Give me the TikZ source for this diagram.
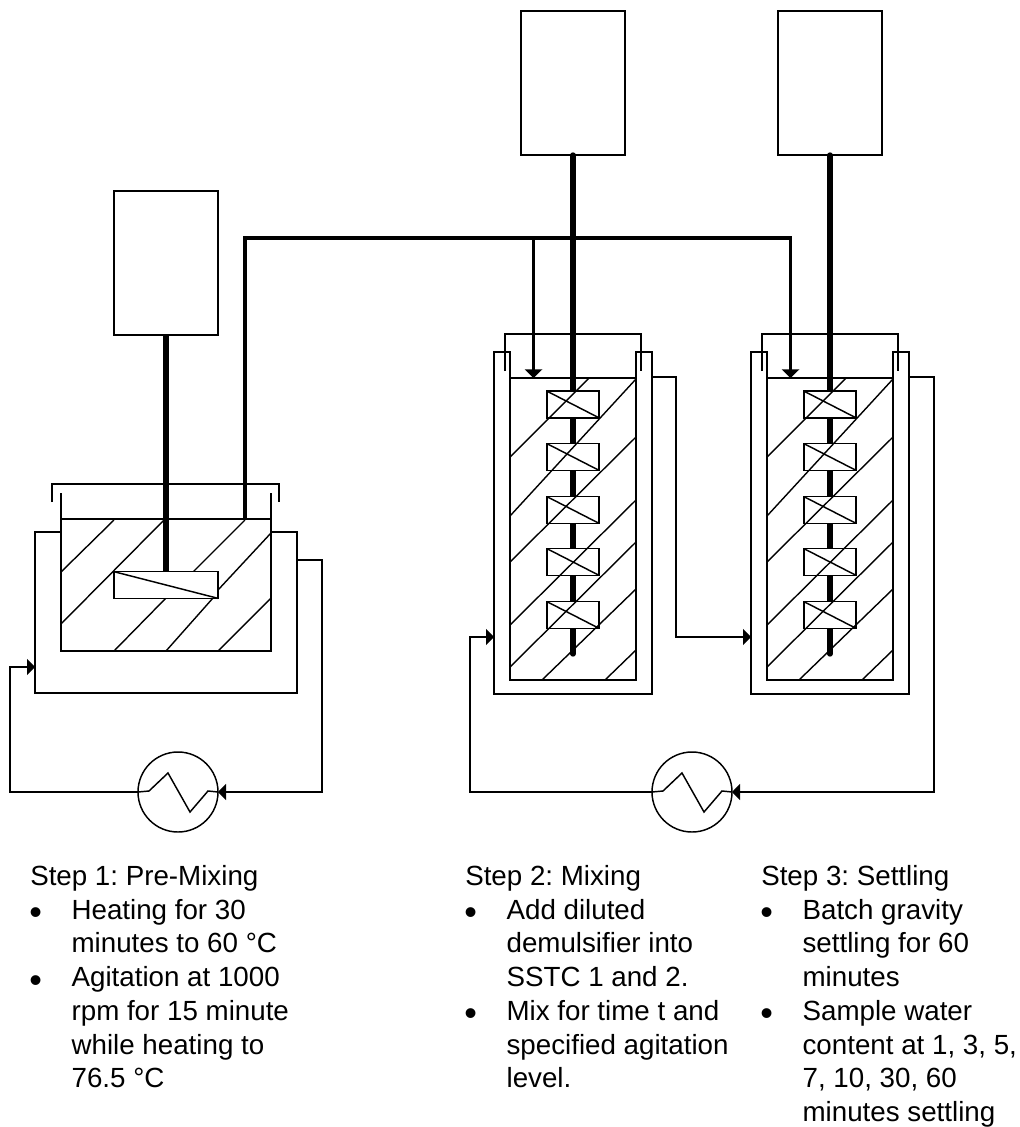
\documentclass[tikz,border=0pt]{standalone}
\usepackage{fontspec}
\setmainfont{Liberation Sans}
\usetikzlibrary{positioning,arrows.meta}
% Bullet with a hanging indent
\newcommand{\stepitem}[1]{\makebox[\stepindent][l]{\hspace*{-0.6pt}\smash{\raisebox{-4.2pt}{\fontsize{27pt}{27pt}\selectfont\textbullet}}}#1}
\newcommand{\stepcont}[1]{\hspace*{\stepindent}#1}
\newlength{\stepindent}
\setlength{\stepindent}{31pt}

\begin{document}
\begin{tikzpicture}[
    x=0.75pt, y=-0.75pt,
    % Stili per i recipienti
    motor/.style={rectangle, draw=black, line width=1.1pt, fill=white, inner sep=0pt, outer sep=0pt,
        minimum width=78pt, minimum height=108pt},
    tank/.style={rectangle, draw=black, line width=1.1pt, inner sep=0pt, outer sep=0pt},
    impeller/.style={rectangle, draw=black, line width=1.1pt, fill=white, inner sep=0pt, outer sep=0pt,
        minimum width=39pt, minimum height=20pt},
    exchanger/.style={circle, draw=black, line width=1.1pt, inner sep=0pt, outer sep=0pt, minimum size=60pt},
    % Stili per le linee
    thin line/.style={line width=1.1pt, line join=miter},
    hatch/.style={line width=1.05pt},
    shaft/.style={line width=4pt},
    feed/.style={line width=2.4pt},
    arrow/.style={thin line, -{Triangle[length=6pt,width=12pt]}},
    feedarrow/.style={feed, -{Triangle[length=6.5pt,width=13pt]}},
    % Stile per il testo
    steptext/.style={anchor=north west, inner sep=0pt, align=left,
        font=\fontsize{20.8pt}{25.3pt}\selectfont\frenchspacing}
]
\useasboundingbox (0,0) rectangle (1020,1127);

% STEP 1: Pre-Mixing
\node[motor] (motorA) at (166,263) {};
\node[tank, minimum width=157.5pt, minimum height=99pt] (tankA) at (166,585) {};
\node[exchanger] (exA) at (178,792) {};

\draw[shaft] (motorA.south) -- (166,572);
\draw[hatch] (61,572) -- (114,520);
\draw[hatch] (61,624) -- (164,520);
\draw[hatch] (114,651) -- (166,598);
\draw[hatch] (193,572) -- (245,520);
\draw[hatch] (218,590) -- (271,533);
\draw[hatch] (166,651) -- (213,598);
\draw[hatch] (218,651) -- (271,598);

% Girante
\node[impeller, minimum width=78pt] (impA) at (166,585) {};
\draw[thin line] (impA.north west) -- (impA.south east);

% Camicia e coperchio
\draw[thin line] (tankA.north west) -- (61,493);
\draw[thin line] (tankA.north east) -- (271,493);
\draw[thin line] (61,532) -- (35,532) -- (35,693) -- (297,693) -- (297,532) -- (271,532);
\draw[thin line] (52,502) -- (52,484) -- (279,484) -- (279,502);
\coordinate (preIn) at (35,667);
\coordinate (preOut) at (297,560);

% STEP 2 and 3: Mixing, Settling
\foreach \vx/\vn in {0/mix, 257/settle} {
    \node[motor] (\vn-motor) at (\vx+573,83) {};
    \node[tank, minimum width=94.5pt, minimum height=226.5pt] (\vn-tank) at (\vx+573,529) {};
    \draw[shaft, line cap=round] (\vn-motor.south) -- (\vx+573,654);

    % Giranti
    \foreach \iy/\ii in {404.5/1, 457/2, 510/3, 562/4, 615/5} {
        \node[impeller] (\vn-imp-\ii) at (\vx+573,\iy) {};
        \draw[thin line] (\vn-imp-\ii.north west) -- (\vn-imp-\ii.south east);
    }

    % Tratteggio
    \draw[hatch] (\vx+510,457) -- (\vx+589,378);
    \draw[hatch] (\vx+510,516) -- (\vx+636,379);
    \draw[hatch] (\vx+510,562) -- (\vx+636,437);
    \draw[hatch] (\vx+510,625) -- (\vx+636,500);
    \draw[hatch] (\vx+510,667) -- (\vx+636,542);
    \draw[hatch] (\vx+542,680) -- (\vx+636,589);
    \draw[hatch] (\vx+605,680) -- (\vx+636,650);

    % Camicia e coperchio
    \draw[thin line] (\vx+510,378) -- (\vx+510,352) -- (\vx+494,352) -- (\vx+494,694)
        -- (\vx+652,694) -- (\vx+652,352) -- (\vx+636,352) -- (\vx+636,378);
    \draw[thin line] (\vx+505,371) -- (\vx+505,334) -- (\vx+641,334) -- (\vx+641,371);

    \coordinate (\vn-in) at (\vx+494,637);
    \coordinate (\vn-out) at (\vx+652,377);
    \coordinate (\vn-feed) at (\vx+533.5,378);
}

\node[exchanger] (exB) at (692,792) {};

% Serpentine
\foreach \ex in {exA, exB} {
    \draw[thin line] (\ex.west) -- ++(11,-1) -- ++(19,-18) -- ++(22,39) -- ++(18,-21) -- (\ex.east);
}

% Ricircolo
\draw[arrow] (preOut) -| (322,792) -- (exA.east);
\draw[arrow] (exA.west) -| (10,667) -- (preIn);
\draw[arrow] (settle-out) -| (934,792) -- (exB.east);
\draw[arrow] (exB.west) -| (470,637) -- (mix-in);
\draw[arrow] (mix-out) -| (676,637) -- (settle-in);

% Linea del demulsificante
\draw[feedarrow] (245,519) |- (790.5,238) -- (settle-feed);
\draw[feedarrow] (mix-feed |- 245,238) -- (mix-feed);

% Testi
\node[steptext] (stepA) at (30,865) {Step 1: Pre-Mixing\\
    \stepitem{Heating for 30}\\
    \stepcont{minutes to 60 °C}\\
    \stepitem{Agitation at 1000}\\
    \stepcont{rpm for 15 minute}\\
    \stepcont{while heating to}\\
    \stepcont{76.5 °C}};
\node[steptext] (stepB) at (465,865) {Step 2: Mixing\\
    \stepitem{Add diluted}\\
    \stepcont{demulsifier into}\\
    \stepcont{SSTC 1 and 2.}\\
    \stepitem{Mix for time t and}\\
    \stepcont{specified agitation}\\
    \stepcont{level.}};
\node[steptext] (stepC) at (761,865) {Step 3: Settling\\
    \stepitem{Batch gravity}\\
    \stepcont{settling for 60}\\
    \stepcont{minutes}\\
    \stepitem{Sample water}\\
    \stepcont{content at 1, 3, 5,}\\
    \stepcont{7, 10, 30, 60}\\
    \stepcont{minutes settling}};

\end{tikzpicture}
\end{document}
